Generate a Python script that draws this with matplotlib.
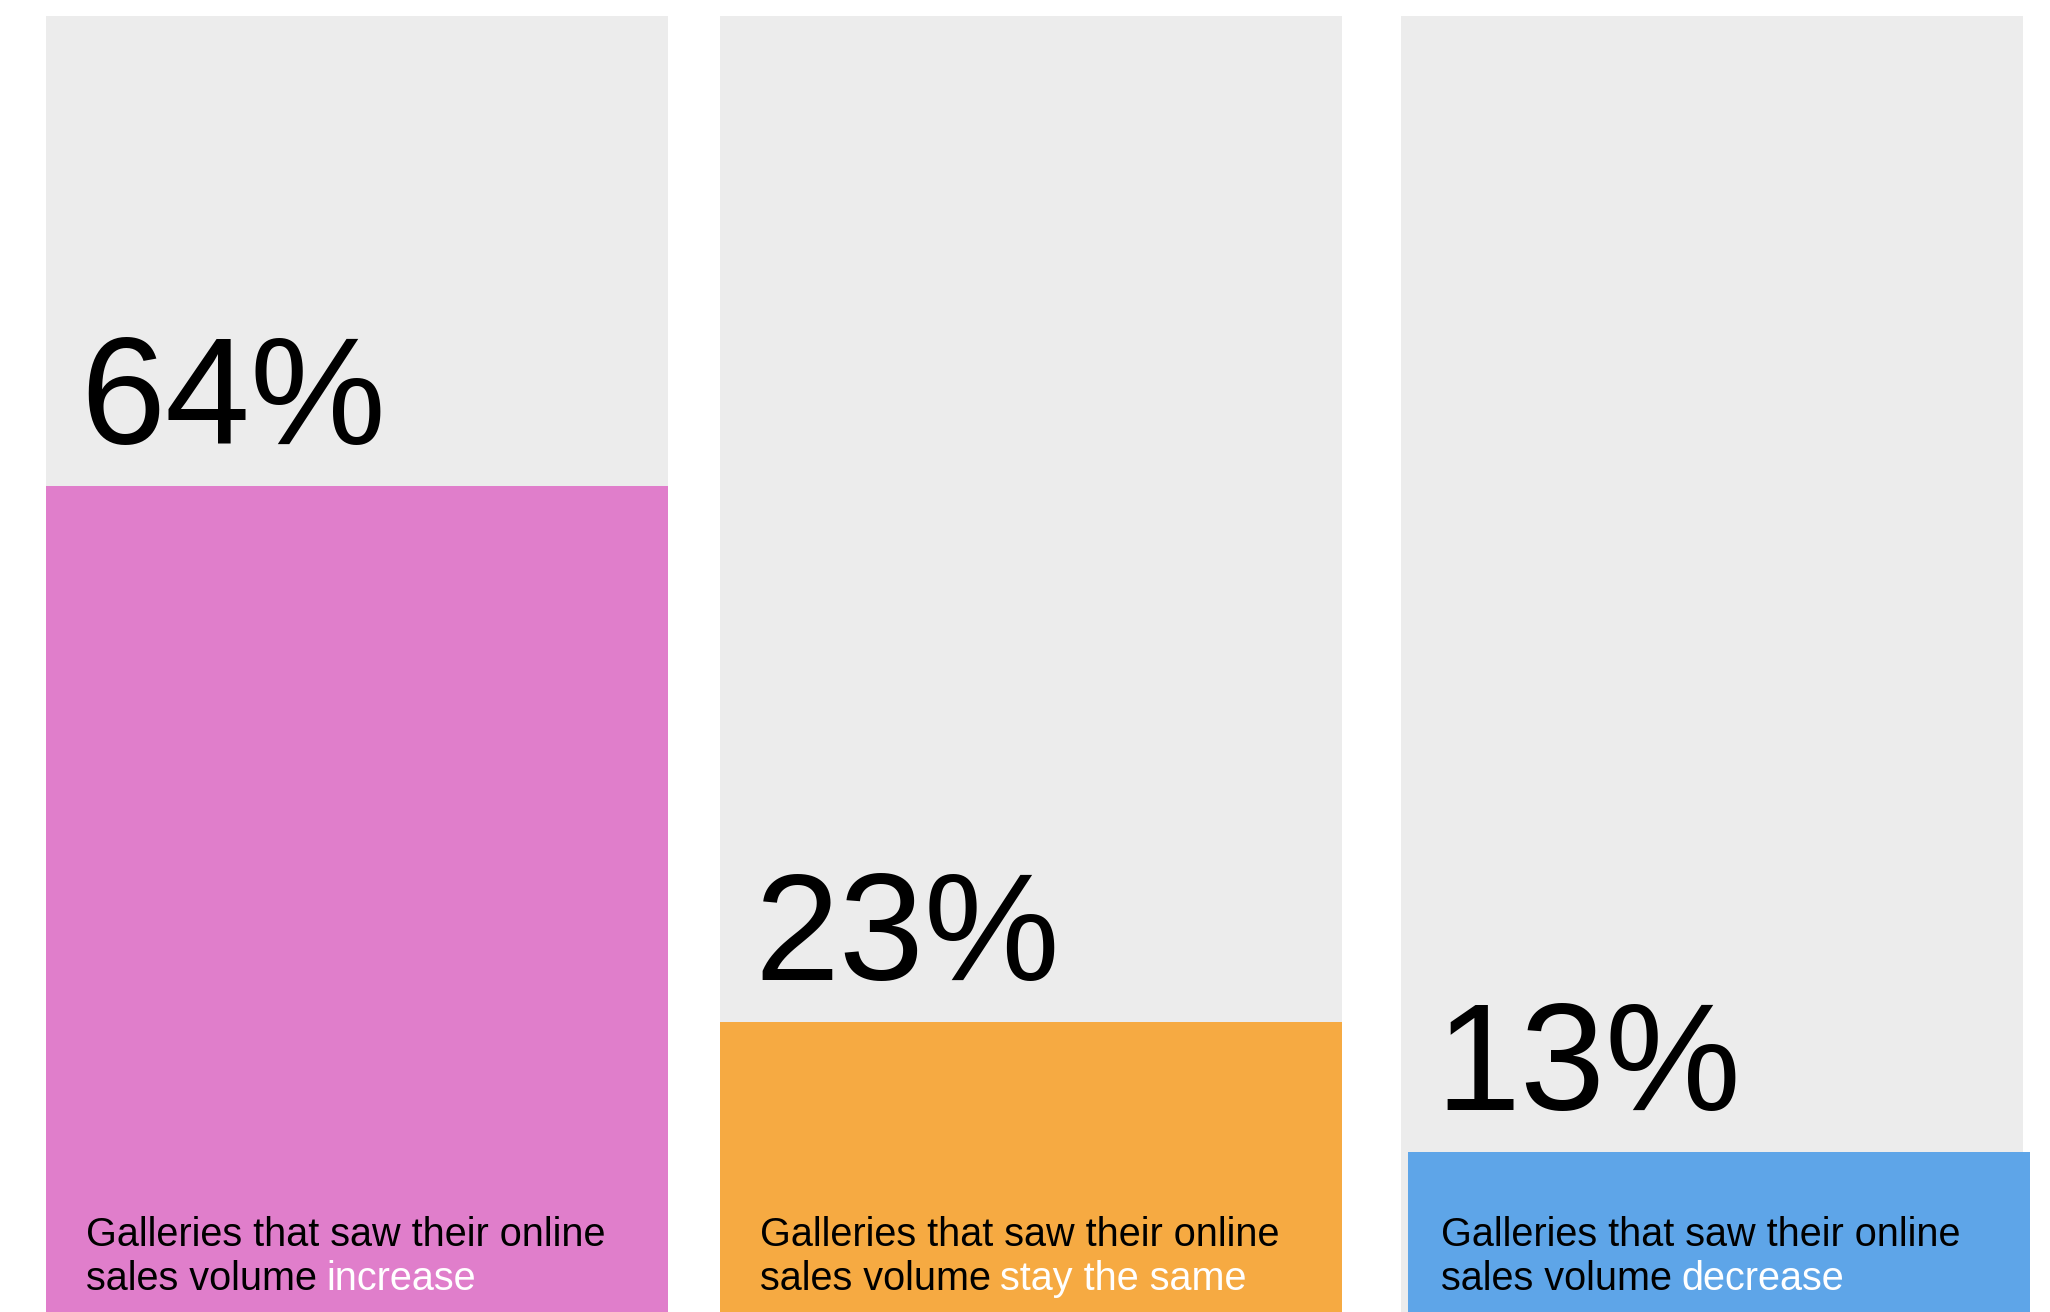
import matplotlib.pyplot as plt

# data
shares = [64, 23, 13]
outcomes = ['increase', 'stay the same', 'decrease']
line1 = 'Galleries that saw their online'
line2 = 'sales volume'
bar_colors = ['#E07ECB', '#F6AA42', '#5EA5E8']
bg_color = '#ECECEC'

W, H = 2050, 1312
fig = plt.figure(figsize=(W / 100, H / 100), dpi=100)
fig.patch.set_facecolor('white')

panel_left = [46, 720, 1401]   # px
panel_w = 622
top_px, base_px = 16, 1322     # axes spans a bit below the image bottom
bar_shift = [0, 0, 7]          # px, the blue bar sits slightly right

for i, (v, word) in enumerate(zip(shares, outcomes)):
    ax = fig.add_axes([panel_left[i] / W, (H - base_px) / H,
                       panel_w / W, (base_px - top_px) / H])
    ax.set_xlim(0, 1)
    ax.set_ylim(0, 100)
    ax.axis('off')
    ax.bar(0.5, 100, width=1, color=bg_color, linewidth=0)
    dx = bar_shift[i] / panel_w
    ax.bar(0.5 + dx, v, width=1, color=bar_colors[i], linewidth=0, clip_on=False)

    ax.annotate(f'{v}%', xy=(0, v), xytext=(34, 42), textcoords='offset pixels',
                fontsize=110, family='Liberation Sans', va='baseline', ha='left')

    ax.annotate(line1, xy=(0, 0), xycoords='axes fraction', xytext=(40, 76),
                textcoords='offset pixels', fontsize=28.5,
                family='Liberation Sans', va='baseline', ha='left')
    t2 = ax.annotate(line2, xy=(0, 0), xycoords='axes fraction', xytext=(40, 32),
                     textcoords='offset pixels', fontsize=28.5,
                     family='Liberation Sans', va='baseline', ha='left')
    ax.annotate(word, xy=(1, 0), xycoords=t2, xytext=(9, 0),
                textcoords='offset pixels', fontsize=28.5, color='white',
                family='Liberation Sans', va='bottom', ha='left')

fig.savefig('out.png', dpi=100, facecolor='white')
